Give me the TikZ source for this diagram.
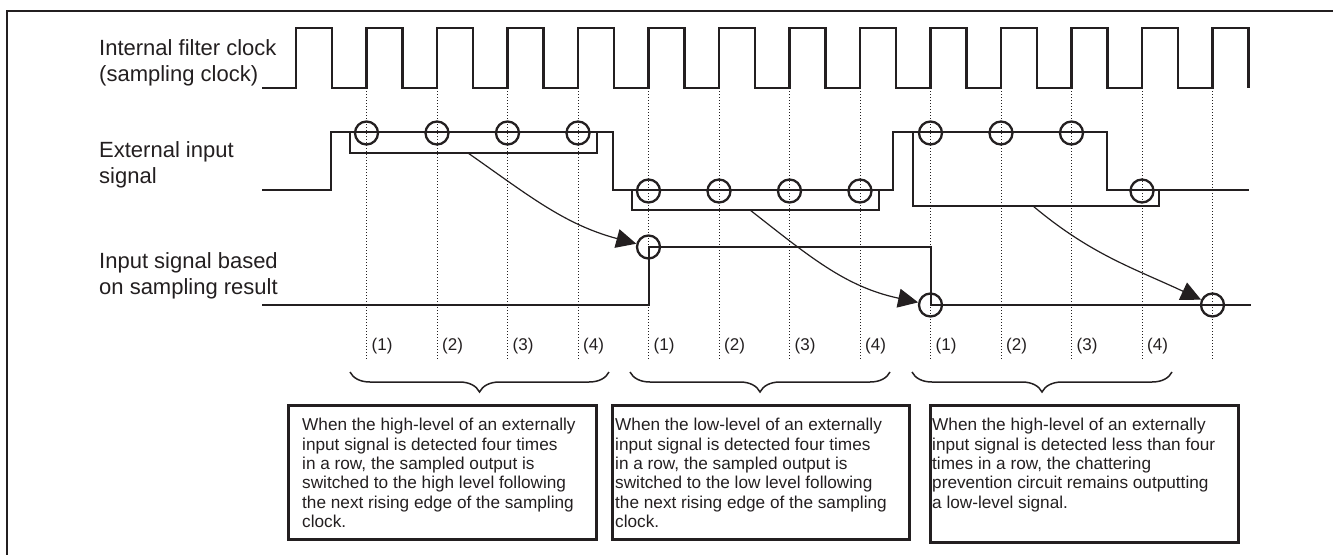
\documentclass[tikz,border=0pt]{standalone}
\usepackage{fontspec}
\setmainfont{Liberation Sans}
\usetikzlibrary{arrows.meta, positioning, decorations.pathreplacing}
\definecolor{linegray}{RGB}{35, 31, 32}

\begin{document}
\begin{tikzpicture}[x=1pt, y=1pt]
    \tikzstyle{wave}=[draw=linegray, line width=2.5pt]
    \tikzstyle{sample}=[circle, draw=linegray, line width=2.3pt, minimum size=23pt, inner sep=0pt]
    \tikzstyle{guide}=[draw=linegray, line width=0.9pt, dash pattern=on 1.2pt off 1.8pt]
    \tikzstyle{window}=[draw=linegray, line width=1.1pt]
    \tikzstyle{flow}=[draw=linegray, line width=1.2pt, -{Triangle[length=20pt, width=19pt]}]
    \tikzstyle{group}=[draw=linegray, line width=1.5pt, decorate, decoration={brace, mirror, amplitude=20pt}]
    \tikzstyle{siglabel}=[anchor=north west, inner sep=0pt, align=left, text=linegray, font=\fontsize{22}{26.5}\selectfont]
    \tikzstyle{count}=[anchor=west, inner sep=0pt, text=linegray, font=\fontsize{17}{20}\selectfont]
    \tikzstyle{notebox}=[draw=linegray, line width=2.6pt, anchor=north west, inner sep=0pt, minimum height=134pt]
    \tikzstyle{notetext}=[inner sep=0pt, align=left, text=linegray, font=\fontsize{17.2}{19.4}\selectfont]

    \useasboundingbox (0,0) rectangle (1333,-555);

    % Frame
    \draw[linegray, line width=2.5pt] (1333,-11) -- (7,-11) -- (7,-555);

    % Signal names
    \node[siglabel] (clkname) at (99,-39) {Internal filter clock\\ (sampling clock)};
    \node[siglabel] (extname) at (99,-141) {External input\\signal};
    \node[siglabel] (outname) at (99,-252) {Input signal based\\on sampling result};

    % Sampling points on the rising edges
    \foreach \k in {1,...,13} {
        \coordinate (t\k) at ({296+70.5*\k},-88);
        \draw[guide] (t\k) -- ++(0,-272);
    }

    % Sampling clock
    \draw[wave] (262,-88) \foreach \k in {0,...,13} {
        -- ({296+70.5*\k},-88) -- ({296+70.5*\k},-28) -- ({332+70.5*\k},-28) -- ({332+70.5*\k},-88)
    };

    % External input signal
    \draw[wave] (262,-190) -- (331,-190) |- (613,-132) |- (893,-190) |- (1107,-132) |- (1249,-190);

    % Input signal based on sampling result
    \draw[wave] (262,-305) -| (649,-247) -| (931,-305) -- (1251,-305);

    % Sampled levels
    \foreach \k/\y in {1/133,2/133,3/133,4/133,5/191,6/191,7/191,8/191,9/133,10/133,11/133,12/191} {
        \node[sample] (e\k) at ({296+70.5*\k},-\y) {};
    }
    \foreach \k/\y/\name in {5/247/s1,9/305/s2,13/305/s3} {
        \node[sample] (\name) at ({296+70.5*\k},-\y) {};
    }

    % Four-sample windows
    \draw[window] (350,-132) |- (597,-153) -- (597,-132);
    \draw[window] (632,-190) |- (879,-210) -- (879,-190);
    \draw[window] (913,-132) |- (1159,-206) -- (1159,-190);
    \coordinate (w1) at (468,-153);
    \coordinate (w2) at (750,-210);
    \coordinate (w3) at (1033,-206);

    \draw[flow] (w1) to[out=-35, in=165] (s1);
    \draw[flow] (w2) to[out=-38, in=168] (s2);
    \draw[flow] (w3) to[out=-40, in=155] (s3);

    % Sample counts
    \foreach \k/\n in {1/1,2/2,3/3,4/4,5/1,6/2,7/3,8/4,9/1,10/2,11/3,12/4} {
        \node[count] (c\k) at ({301+70.5*\k},-346) {(\n)};
    }

    % Braces
    \draw[group] (350,-372) -- (609,-372);
    \draw[group] (630,-372) -- (890,-372);
    \draw[group] (912,-372) -- (1172,-372);

    % Notes
    \node[notebox, minimum width=308pt] (box1) at (287,-404) {};
    \node[notetext, below right=14pt and 15pt of box1.north west] (note1)
        {When the high-level of an externally\\input signal is detected four times\\in a row, the sampled output is\\switched to the high level following\\the next rising edge of the sampling\\clock.};

    \node[notebox, minimum width=297pt] (box2) at (611,-404) {};
    \node[notetext, below right=14pt and 4pt of box2.north west] (note2)
        {When the low-level of an externally\\input signal is detected four times\\in a row, the sampled output is\\switched to the low level following\\the next rising edge of the sampling\\clock.};

    \node[notebox, minimum width=308pt, minimum height=137pt] (box3) at (929,-404) {};
    \node[notetext, below right=14pt and 3pt of box3.north west] (note3)
        {When the high-level of an externally\\input signal is detected less than four\\times in a row, the chattering\\prevention circuit remains outputting\\a low-level signal.};
\end{tikzpicture}
\end{document}
